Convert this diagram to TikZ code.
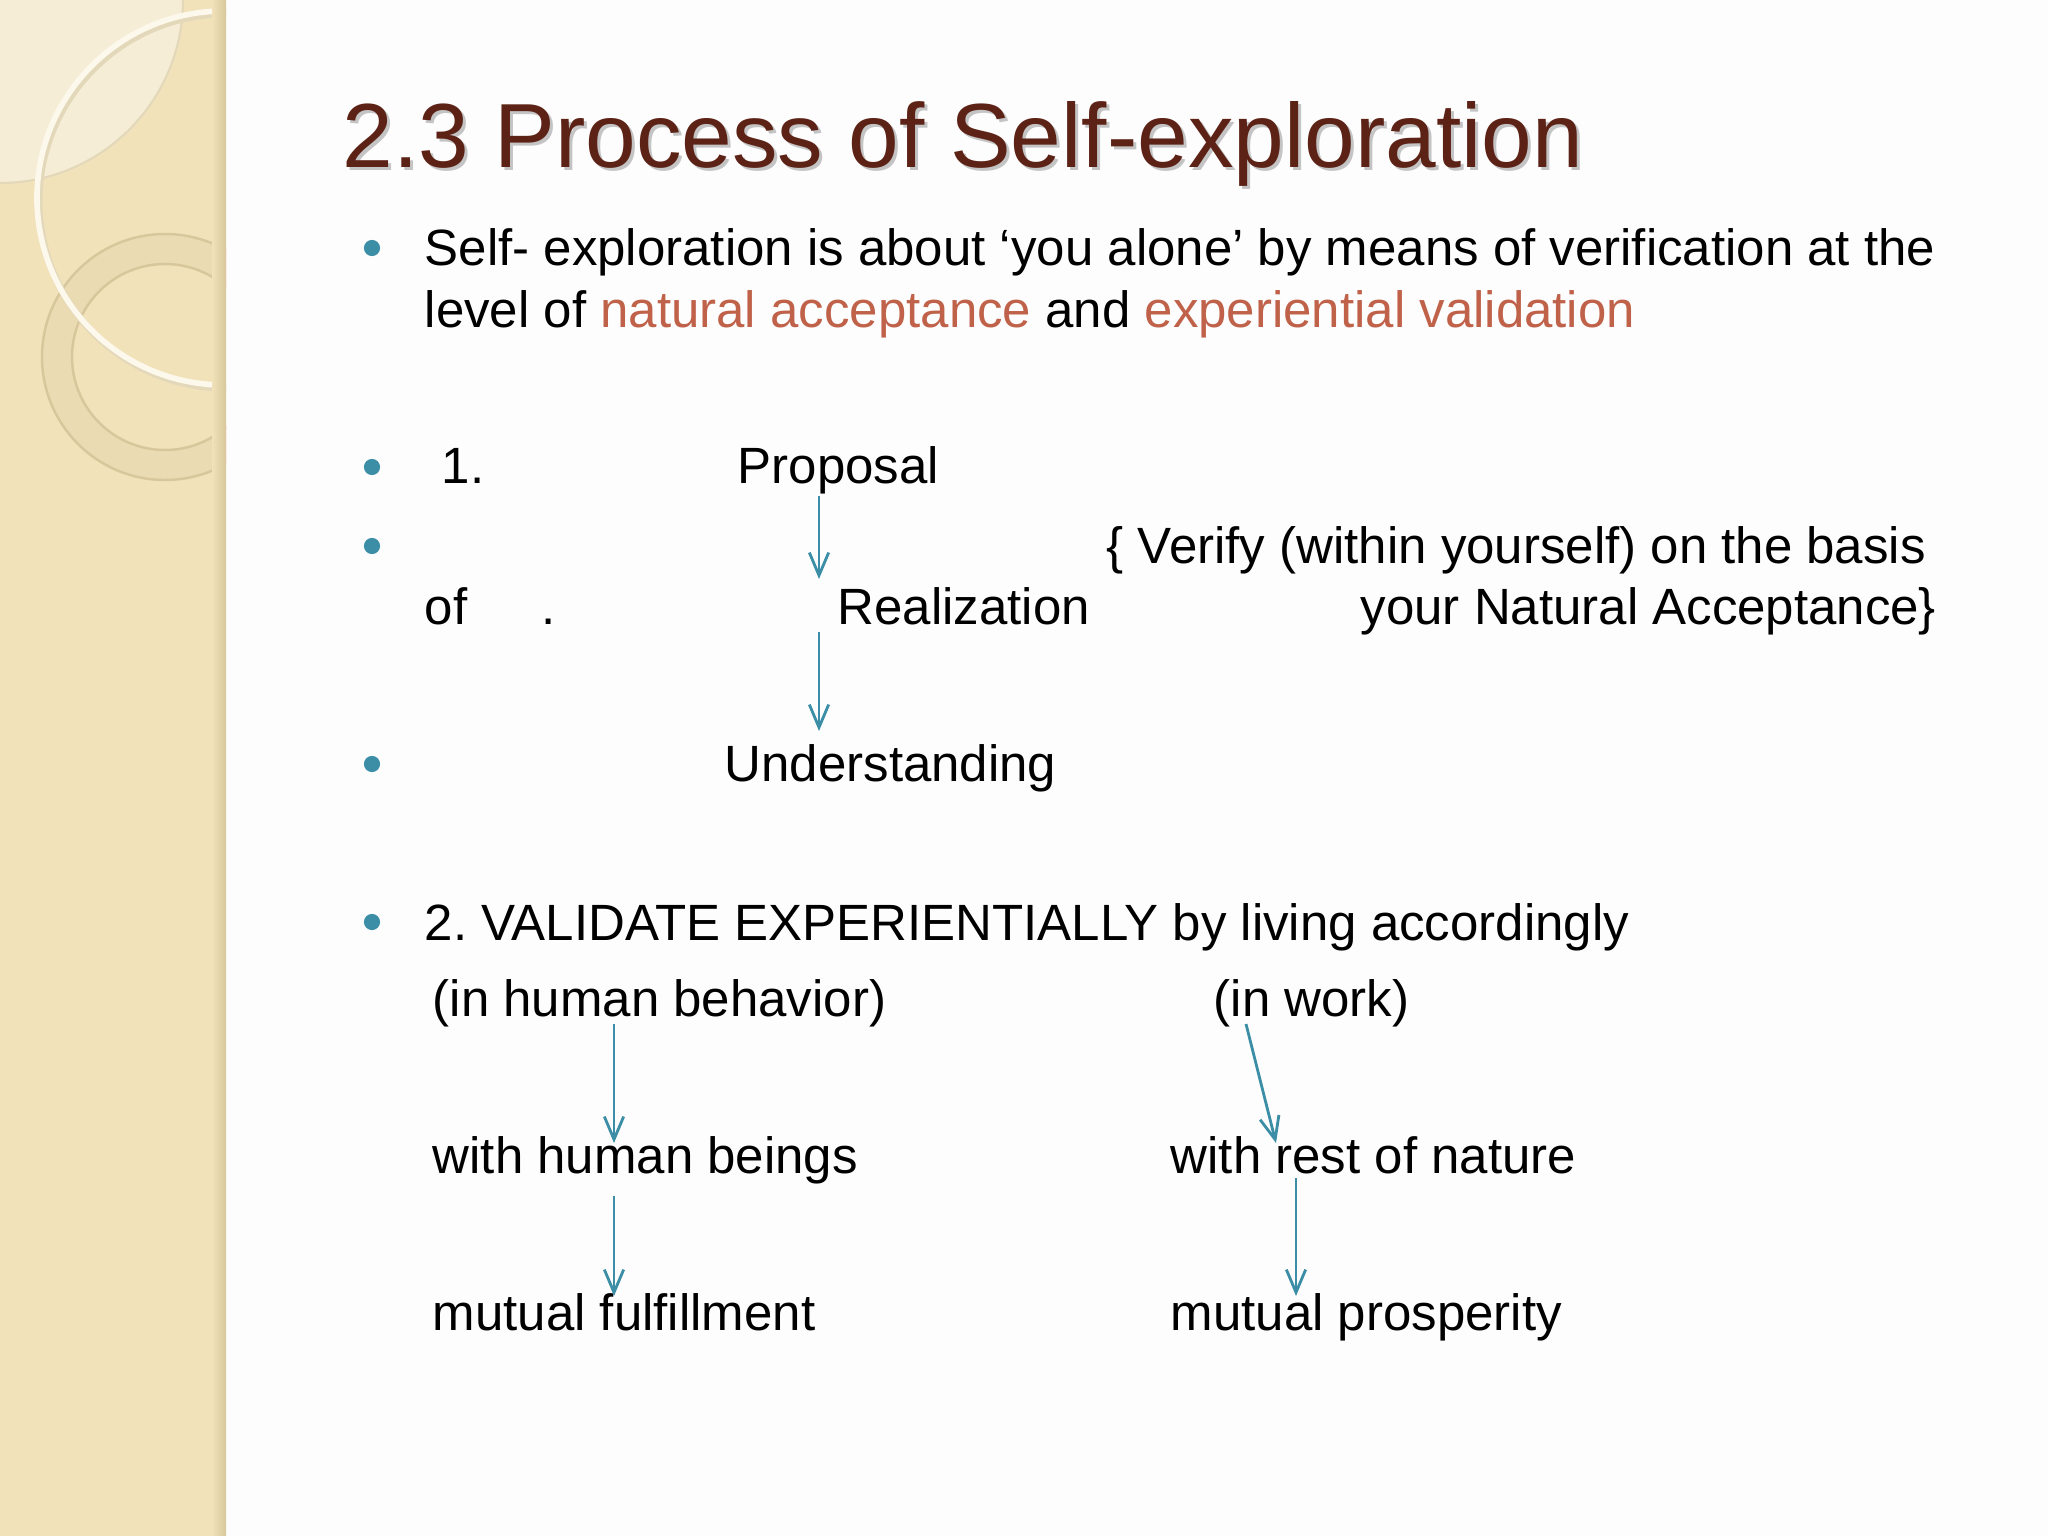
\documentclass[tikz,border=0pt]{standalone}
\usepackage{fontspec}
\setmainfont{Liberation Sans}
\usetikzlibrary{arrows.meta}

\definecolor{titlebrown}{HTML}{5C2216}
\definecolor{dotteal}{HTML}{3B8EA5}
\definecolor{accentred}{HTML}{C0624A}
\definecolor{stripbeige}{HTML}{F1E2BA}
\definecolor{stripdark}{HTML}{D9C79C}
\definecolor{lenscream}{HTML}{F6EDD6}
\definecolor{ringtan}{HTML}{EBDBB2}
\definecolor{arccream}{HTML}{FCF8EC}
\definecolor{pagewhite}{HTML}{FDFDFD}

\tikzset{
	body/.style = {anchor=base west, inner sep=0pt, font=\fontsize{14.5pt}{17pt}\selectfont},
	dot/.style = {circle, fill=dotteal, inner sep=0pt, minimum size=4.6pt},
	flow/.style = {draw=dotteal, line width=0.8pt, -{Straight Barb[length=6.5pt,width=5.5pt]}}
}

\begin{document}
\frenchspacing
\begin{tikzpicture}[x=0.01cm, y=-0.01cm]
	\useasboundingbox (0, 0) rectangle (2048, 1536);
	
	% background
	\fill [pagewhite] (0, 0) rectangle (2048, 1536);
	\begin{scope}
	\clip (0, 0) rectangle (226, 1536);
	\fill [stripbeige] (0, 0) rectangle (226, 1536);
	\fill [lenscream] (0, 0) circle [radius=183];
	\draw [stripdark!70, line width=0.6pt] (0, 0) circle [radius=183];
	% ring
	\fill [ringtan, even odd rule] (165, 357) circle [radius=123] (165, 357) circle [radius=93];
	\draw [stripdark, line width=0.7pt] (165, 357) circle [radius=123];
	\draw [stripdark, line width=0.7pt] (165, 357) circle [radius=93];
	% thin arc
	\draw [stripdark!70, line width=2pt] (226, 201) circle [radius=187];
	\draw [arccream, line width=1.6pt] (224, 198) circle [radius=187];
	\end{scope}
	\shade [left color=stripbeige, right color=stripdark] (212, 0) rectangle (226, 1536);
	
	% title
	\node [anchor=base west, inner sep=0pt, font=\fontsize{25.9pt}{30pt}\selectfont, text=gray, opacity=.45] (titleshadow) at (345, 170) {2.3 Process of Self-exploration};
	\node [anchor=base west, inner sep=0pt, font=\fontsize{25.9pt}{30pt}\selectfont, text=titlebrown] (title) at (342, 167) {2.3 Process of Self-exploration};
	
	% bullets
	\node [dot] (b1) at (372, 248) {};
	\node [dot] (b2) at (372, 467) {};
	\node [dot] (b3) at (372, 546) {};
	\node [dot] (b4) at (372, 764) {};
	\node [dot] (b5) at (372, 922) {};
	
	% first point
	\node [body] (line1) at (424, 265) {Self- exploration is about ‘you alone’ by means of verification at the};
	\node [body] (line2) at (424, 327) {level of \textcolor{accentred}{natural acceptance} and \textcolor{accentred}{experiential validation}};
	
	% step 1
	\node [body] (one) at (441, 483) {1.};
	\node [body] (prop) at (737, 483) {Proposal};
	\node [body] (verify) at (1106, 563) {\{ Verify (within yourself) on the basis};
	\node [body] (of) at (424, 624) {of};
	\node [body] (stop) at (541, 624) {.};
	\node [body] (real) at (837, 624) {Realization};
	\node [body] (accept) at (1360, 624) {your Natural Acceptance\}};
	\node [body] (under) at (724, 781) {Understanding};
	
	% step 2
	\node [body] (two) at (424, 940) {2. VALIDATE EXPERIENTIALLY by living accordingly};
	\node [body] (behav) at (432, 1016) {(in human behavior)};
	\node [body] (work) at (1213, 1016) {(in work)};
	\node [body] (humans) at (432, 1173) {with human beings};
	\node [body] (nature) at (1170, 1173) {with rest of nature};
	\node [body] (fulfil) at (432, 1330) {mutual fulfillment};
	\node [body] (prosper) at (1170, 1330) {mutual prosperity};
	
	% arrow ends
	\coordinate (prop-out) at (819, 496);
	\coordinate (real-in) at (819, 579);
	\coordinate (real-out) at (819, 632);
	\coordinate (under-in) at (819, 731);
	\coordinate (behav-out) at (614, 1024);
	\coordinate (humans-in) at (614, 1143);
	\coordinate (work-out) at (1246, 1024);
	\coordinate (nature-in) at (1276, 1143);
	\coordinate (humans-out) at (614, 1196);
	\coordinate (fulfil-in) at (614, 1296);
	\coordinate (nature-out) at (1296, 1178);
	\coordinate (prosper-in) at (1296, 1296);
	
	% arrows
	\draw [flow] (prop-out) -- (real-in);
	\draw [flow] (real-out) -- (under-in);
	\draw [flow] (behav-out) -- (humans-in);
	\draw [flow] (work-out) -- (nature-in);
	\draw [flow] (humans-out) -- (fulfil-in);
	\draw [flow] (nature-out) -- (prosper-in);
\end{tikzpicture}
\end{document}
